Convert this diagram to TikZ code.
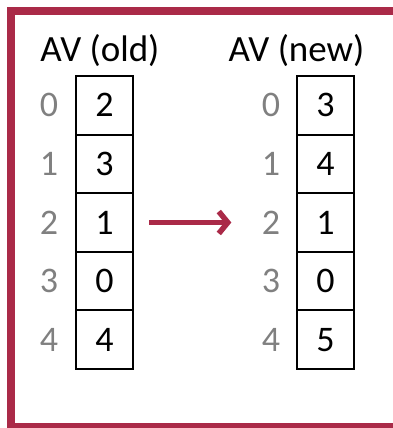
\documentclass[tikz,border=0pt]{standalone}
\usepackage{fontspec}
\setmainfont{Carlito}
\usetikzlibrary{arrows.meta}
\definecolor{framered}{RGB}{170,42,72}
\definecolor{idxgray}{RGB}{128,128,128}
\tikzset{
  cell/.style={draw,line width=2pt,minimum width=57pt,minimum height=58.6pt,
    inner sep=0pt,font=\fontsize{36}{36}\selectfont},
  idx/.style={text=idxgray,font=\fontsize{36}{36}\selectfont},
  title/.style={anchor=base,font=\fontsize{37}{37}\selectfont},
  move/.style={framered,line width=5.5pt,-{Straight Barb[length=9pt,width=22pt]}}
}
\begin{document}
\begin{tikzpicture}[x=1pt,y=-1pt]
\useasboundingbox (0,0) rectangle (392,428);
% outer frame, the right side runs off the page
\draw[framered,line width=8pt] (11,11) rectangle (420,427);
\node[title] (oldtitle) at (100,62) {AV (old)};
\node[title] (newtitle) at (296.5,62) {AV (new)};
% old and new arrays with their indices
\foreach \v [count=\i from 0] in {2,3,1,0,4} {
  \node[cell] (old\i) at (104.5,{76+58.6*(\i+0.5)}) {\v};
  \node[idx] (oi\i) at (49,{76+58.6*(\i+0.5)}) {\i};
}
\foreach \v [count=\i from 0] in {3,4,1,0,5} {
  \node[cell] (new\i) at (325.5,{76+58.6*(\i+0.5)}) {\v};
  \node[idx] (ni\i) at (271,{76+58.6*(\i+0.5)}) {\i};
}
\draw[move,shorten <=15pt,shorten >=27pt] (old2) -- (ni2);
\end{tikzpicture}
\end{document}
